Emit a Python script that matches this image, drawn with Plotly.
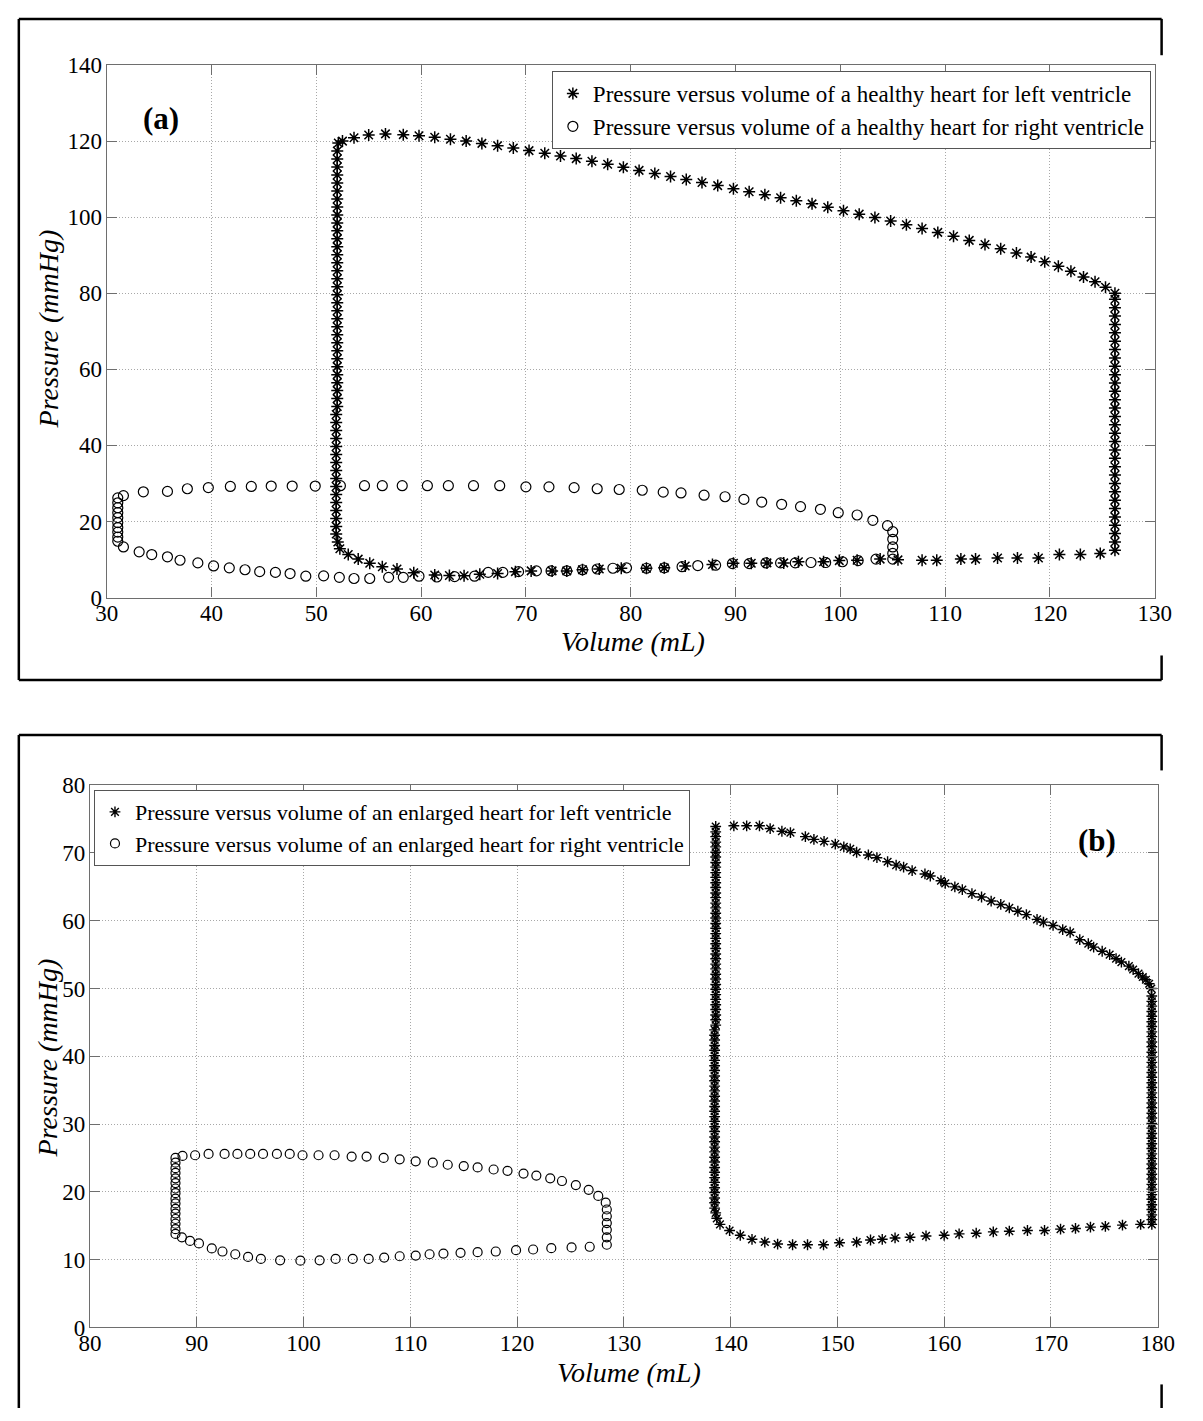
import plotly.graph_objects as go

W, H = 1203, 1421

# ---------------- Panel (a): healthy heart ----------------
lv_a_vol = [
    # isovolumic relaxation (V ~ 52)
    52.1, 52.0, 52.0, 52.0, 52.0, 52.0, 52.0, 52.0, 52.0, 52.0,
    52.0, 52.0, 52.0, 52.0, 52.0, 52.0, 52.0, 52.0, 52.0, 52.0,
    52.0, 52.0, 52.0, 52.0, 52.0, 52.0, 52.0, 52.0, 52.0, 52.0,
    52.0, 52.0, 52.0, 52.0, 51.9, 51.9, 51.9, 51.9, 51.9, 51.9,
    51.9, 51.9, 51.9, 51.9, 51.9, 51.9, 51.9, 51.9, 51.9, 51.9,
    # filling
    52.05, 52.25, 53.05, 54.0, 55.1, 56.3, 57.7, 59.3, 61.3, 62.7,
    64.1, 65.6, 67.3, 69.0, 70.5, 72.5, 73.9, 75.4, 77.0, 79.1,
    81.5, 83.2, 85.2, 87.8, 89.8, 91.5, 93.0, 94.6, 96.0, 98.4,
    99.9, 101.6, 103.8, 105.5, 107.8, 109.2, 111.5, 112.9, 115.0, 116.9,
    118.9, 120.9, 122.9, 124.8, 126.2,
    # isovolumic contraction (V ~ 126)
    126.2, 126.2, 126.2, 126.2, 126.2, 126.2, 126.2, 126.2, 126.2, 126.2,
    126.2, 126.2, 126.2, 126.2, 126.2, 126.2, 126.2, 126.2, 126.2, 126.2,
    126.2, 126.2, 126.2, 126.2, 126.2, 126.2, 126.2, 126.2, 126.2, 126.2,
    126.2,
    # ejection
    125.3, 124.3, 123.2, 122.0, 120.8, 119.5, 118.2, 116.8, 115.3, 113.8,
    112.3, 110.8, 109.3, 107.8, 106.3, 104.8, 103.3, 101.8, 100.3, 98.8,
    97.3, 95.8, 94.3, 92.8, 91.3, 89.8, 88.3, 86.8, 85.3, 83.8,
    82.3, 80.8, 79.3, 77.8, 76.3, 74.8, 73.3, 71.8, 70.3, 68.8,
    67.3, 65.8, 64.3, 62.8, 61.3, 59.8, 58.3, 56.6, 55.0, 53.6,
    52.5,
]
lv_a_pres = [
    119.5, 117.4, 115.3, 113.2, 111.1, 109.0, 106.9, 104.8, 102.7, 100.6,
    98.5, 96.4, 94.3, 92.2, 90.1, 88.0, 85.9, 83.8, 81.7, 79.6,
    77.5, 75.4, 73.3, 71.2, 69.1, 67.0, 64.9, 62.8, 60.7, 58.6,
    56.5, 54.4, 52.3, 50.2, 48.1, 46.0, 43.9, 41.8, 39.7, 37.6,
    35.5, 33.4, 31.3, 29.2, 27.1, 25.0, 22.9, 20.8, 18.7, 16.7,
    14.6, 12.8, 11.3, 10.1, 9.0, 8.1, 7.5, 6.5, 5.9, 5.8,
    5.7, 6.1, 6.3, 6.8, 7.0, 7.0, 7.0, 7.3, 7.5, 7.7,
    7.7, 7.8, 8.3, 8.7, 9.0, 9.0, 9.1, 9.1, 9.4, 9.4,
    9.7, 9.8, 10.1, 9.9, 9.8, 9.8, 10.1, 10.1, 10.4, 10.4,
    10.4, 11.3, 11.3, 11.6, 12.4,
    14.6, 16.8, 19.0, 21.2, 23.4, 25.6, 27.8, 30.0, 32.2, 34.4,
    36.6, 38.8, 41.0, 43.2, 45.4, 47.6, 49.8, 52.0, 54.2, 56.4,
    58.6, 60.8, 63.0, 65.2, 67.4, 69.6, 71.8, 74.0, 76.2, 78.4,
    80.0,
    81.6, 83.0, 84.3, 85.8, 87.1, 88.3, 89.5, 90.6, 91.7, 92.8,
    93.9, 95.0, 96.0, 97.0, 98.0, 99.0, 99.9, 100.8, 101.7, 102.6,
    103.5, 104.3, 105.1, 105.9, 106.7, 107.5, 108.3, 109.1, 109.9, 110.7,
    111.5, 112.3, 113.1, 113.9, 114.7, 115.4, 116.1, 116.8, 117.5, 118.2,
    118.8, 119.4, 120.0, 120.5, 121.0, 121.4, 121.7, 121.9, 121.6, 120.9,
    120.0,
]

rv_a_vol = [
    31.06, 31.06, 31.06, 31.06, 31.06, 31.06, 31.06, 31.06, 31.06, 31.06,
    31.6, 33.1, 34.3, 35.8, 37.0, 38.7, 40.2, 41.7, 43.2, 44.6,
    46.1, 47.5, 49.0, 50.7, 52.2, 53.6, 55.1, 56.9, 58.3, 59.8,
    61.5, 63.2, 65.1, 66.4, 67.8, 69.3, 71.0, 72.4, 73.9, 75.4,
    76.8, 78.3, 79.6, 81.5, 83.2, 84.9, 86.4, 88.1, 89.7, 91.3,
    92.9, 94.3, 95.7, 97.2, 98.6, 100.2, 101.7, 103.4, 105.0,
    105.0, 105.0, 105.0, 105.0,
    104.5, 103.1, 101.6, 99.8, 98.1, 96.2, 94.4, 92.5, 90.8, 89.0,
    87.0, 84.8, 83.1, 81.1, 78.9, 76.8, 74.6, 72.2, 70.0, 67.5,
    65.0, 62.6, 60.6, 58.2, 56.3, 54.6, 52.3, 49.9, 47.7, 45.7,
    43.8, 41.8, 39.7, 37.7, 35.8, 33.5, 31.6,
]
rv_a_pres = [
    26.2, 24.9, 23.6, 22.3, 21.0, 19.7, 18.4, 17.2, 15.9, 14.8,
    13.3, 12.0, 11.3, 10.7, 9.8, 9.1, 8.3, 7.8, 7.3, 6.8,
    6.6, 6.3, 5.6, 5.7, 5.3, 5.0, 5.0, 5.3, 5.3, 5.6,
    5.4, 5.5, 5.6, 6.6, 6.6, 6.8, 7.0, 7.0, 7.0, 7.3,
    7.5, 7.7, 7.8, 7.7, 7.8, 8.1, 8.4, 8.5, 8.9, 8.9,
    9.1, 9.1, 9.1, 9.2, 9.2, 9.4, 9.7, 10.1, 10.1,
    11.6, 13.3, 15.3, 17.3,
    18.9, 20.3, 21.7, 22.3, 23.2, 23.9, 24.5, 25.1, 25.8, 26.5,
    26.9, 27.5, 27.7, 28.2, 28.4, 28.6, 28.9, 29.1, 29.1, 29.4,
    29.4, 29.4, 29.4, 29.4, 29.4, 29.4, 29.4, 29.3, 29.3, 29.3,
    29.2, 29.2, 28.9, 28.6, 27.9, 27.8, 26.8,
]

# ---------------- Panel (b): enlarged heart ----------------
lv_b_vol = [
    # isovolumic relaxation (V ~ 138.6)
    138.6, 138.6, 138.6, 138.6, 138.6, 138.6, 138.6, 138.6, 138.6, 138.6,
    138.6, 138.6, 138.6, 138.6, 138.6, 138.6, 138.6, 138.6, 138.6, 138.6,
    138.6, 138.6, 138.6, 138.6, 138.6, 138.6, 138.6, 138.6, 138.6, 138.6,
    138.6, 138.6, 138.6, 138.6, 138.6, 138.6, 138.6, 138.6, 138.6, 138.6,
    138.5, 138.5, 138.5, 138.5, 138.5, 138.5, 138.5, 138.5, 138.5, 138.5,
    138.5, 138.5, 138.5, 138.5, 138.5, 138.5, 138.5, 138.5, 138.5, 138.5,
    138.5, 138.5, 138.5, 138.5, 138.5, 138.5, 138.5, 138.5, 138.5, 138.5,
    138.5, 138.5, 138.5, 138.5, 138.5, 138.5, 138.6, 138.7,
    # filling
    139.0, 139.9, 140.9, 142.0, 143.2, 144.4, 145.8, 147.2, 148.7, 150.2,
    151.8, 153.1, 154.2, 155.4, 156.8, 158.3, 160.0, 161.4, 163.0, 164.6,
    166.1, 167.8, 169.4, 170.9, 172.3, 173.7, 175.1, 176.7, 178.4, 179.45,
    # isovolumic contraction (V ~ 179.45)
    179.45, 179.45, 179.45, 179.45, 179.45, 179.45, 179.45, 179.45, 179.45, 179.45,
    179.45, 179.45, 179.45, 179.45, 179.45, 179.45, 179.45, 179.45, 179.45, 179.45,
    179.45, 179.45, 179.45, 179.45, 179.45, 179.45, 179.45, 179.45, 179.45, 179.45,
    179.45, 179.45, 179.45, 179.45, 179.45, 179.45, 179.45, 179.45, 179.45, 179.45,
    179.45, 179.45, 179.45, 179.45, 179.45,
    # ejection
    179.4, 179.2, 178.9, 178.6, 178.2, 177.7, 177.3, 176.6, 176.1, 175.5,
    174.8, 174.0, 173.5, 172.7, 171.8, 171.1, 170.2, 169.3, 168.7, 167.7,
    166.9, 166.1, 165.3, 164.4, 163.5, 162.6, 161.7, 161.0, 160.1, 159.7,
    158.7, 158.2, 157.0, 156.2, 155.5, 154.7, 153.7, 152.9, 151.8, 151.2,
    150.6, 149.8, 148.75, 147.8, 147.0, 145.6, 144.8, 143.7, 142.7, 141.5,
    140.3,
]
lv_b_pres = [
    73.9, 73.1, 72.4, 71.6, 70.9, 70.1, 69.4, 68.6, 67.9, 67.1,
    66.4, 65.6, 64.9, 64.1, 63.4, 62.6, 61.9, 61.1, 60.4, 59.6,
    58.9, 58.1, 57.4, 56.6, 55.9, 55.1, 54.4, 53.6, 52.9, 52.1,
    51.4, 50.6, 49.9, 49.1, 48.4, 47.6, 46.9, 46.1, 45.4, 44.6,
    43.9, 43.1, 42.4, 41.6, 40.9, 40.1, 39.4, 38.6, 37.9, 37.1,
    36.4, 35.6, 34.9, 34.1, 33.4, 32.6, 31.9, 31.1, 30.4, 29.6,
    28.9, 28.1, 27.4, 26.6, 25.9, 25.1, 24.4, 23.6, 22.9, 22.1,
    21.4, 20.6, 19.9, 19.1, 18.4, 17.6, 16.9, 16.1,
    15.2, 14.3, 13.6, 13.0, 12.6, 12.3, 12.2, 12.2, 12.2, 12.5,
    12.6, 12.9, 13.0, 13.2, 13.3, 13.5, 13.6, 13.8, 13.9, 14.1,
    14.2, 14.3, 14.3, 14.5, 14.6, 14.8, 14.9, 15.1, 15.2, 15.2,
    15.9, 16.6, 17.4, 18.1, 18.9, 19.6, 20.4, 21.1, 21.9, 22.6,
    23.4, 24.1, 24.9, 25.6, 26.4, 27.1, 27.9, 28.6, 29.4, 30.1,
    30.9, 31.6, 32.4, 33.1, 33.9, 34.6, 35.4, 36.1, 36.9, 37.6,
    38.4, 39.1, 39.9, 40.6, 41.4, 42.1, 42.9, 43.6, 44.4, 45.1,
    45.9, 46.6, 47.4, 48.1, 48.9,
    50.0, 50.7, 51.3, 51.7, 52.2, 52.8, 53.3, 53.9, 54.4, 55.0,
    55.5, 56.1, 56.6, 57.2, 58.3, 58.7, 59.3, 59.8, 60.2, 60.9,
    61.4, 61.9, 62.4, 62.9, 63.5, 64.0, 64.6, 65.0, 65.5, 65.9,
    66.6, 66.9, 67.4, 67.9, 68.2, 68.7, 69.3, 69.7, 70.1, 70.6,
    70.9, 71.3, 71.7, 72.0, 72.4, 73.0, 73.2, 73.6, 74.0, 74.0,
    74.0,
]

rv_b_vol = [
    88.0, 88.0, 88.0, 88.0, 88.0, 88.0, 88.0, 88.0, 88.0, 88.0,
    88.0, 88.0, 88.0, 88.0, 88.0, 88.0,
    88.66, 89.84, 91.1, 92.6, 93.8, 95.0, 96.2, 97.5, 98.7, 99.9,
    101.4, 102.9, 104.5, 105.9, 107.5, 109.0, 110.5, 112.1, 113.5, 115.0,
    116.3, 117.8, 119.1, 120.6, 121.8, 123.1, 124.2, 125.5, 126.7, 127.6,
    128.3,
    128.4, 128.4, 128.4, 128.4, 128.4, 128.4,
    126.8, 125.1, 123.2, 121.5, 119.9, 118.0, 116.3, 114.7, 113.1, 111.8,
    110.5, 109.0, 107.55, 106.1, 104.6, 103.0, 101.5, 99.7, 97.8, 96.0,
    94.8, 93.6, 92.4, 91.4, 90.2, 89.36, 88.6,
]
rv_b_pres = [
    25.0, 24.3, 23.5, 22.8, 22.0, 21.3, 20.5, 19.8, 19.0, 18.3,
    17.5, 16.8, 16.0, 15.3, 14.5, 13.8,
    25.3, 25.4, 25.6, 25.6, 25.6, 25.6, 25.6, 25.6, 25.6, 25.4,
    25.4, 25.4, 25.2, 25.2, 25.0, 24.8, 24.5, 24.3, 24.0, 23.8,
    23.6, 23.3, 23.1, 22.7, 22.4, 22.0, 21.6, 21.0, 20.3, 19.4,
    18.4,
    17.4, 16.4, 15.4, 14.4, 13.3, 12.2,
    11.9, 11.8, 11.7, 11.5, 11.4, 11.2, 11.1, 11.0, 10.9, 10.8,
    10.6, 10.5, 10.3, 10.1, 10.1, 10.1, 9.9, 9.85, 9.9, 10.1,
    10.4, 10.8, 11.2, 11.65, 12.4, 12.77, 13.3,
]

x_ticks_a = [30, 40, 50, 60, 70, 80, 90, 100, 110, 120, 130]
y_ticks_a = [0, 20, 40, 60, 80, 100, 120, 140]
x_ticks_b = [80, 90, 100, 110, 120, 130, 140, 150, 160, 170, 180]
y_ticks_b = [0, 10, 20, 30, 40, 50, 60, 70, 80]

legend_a = ["Pressure versus volume of a healthy heart for left ventricle",
            "Pressure versus volume of a healthy heart for right ventricle"]
legend_b = ["Pressure versus volume of an enlarged heart for left ventricle",
            "Pressure versus volume of an enlarged heart for right ventricle"]

FONT = "Liberation Serif"


def px(x):
    return x / W


def py(y):
    return 1 - y / H


star = dict(symbol="asterisk-open", size=10, color="black", line=dict(color="black", width=1.5))
circ = dict(symbol="circle-open", size=10, color="black", line=dict(color="black", width=1.2))
star_b = dict(symbol="asterisk-open", size=9, color="black", line=dict(color="black", width=1.4))
circ_b = dict(symbol="circle-open", size=9, color="black", line=dict(color="black", width=1.2))

fig = go.Figure()
fig.add_trace(go.Scatter(x=lv_a_vol, y=lv_a_pres, mode="markers", marker=star,
                         name=legend_a[0], xaxis="x", yaxis="y", legend="legend"))
fig.add_trace(go.Scatter(x=rv_a_vol, y=rv_a_pres, mode="markers", marker=circ,
                         name=legend_a[1], xaxis="x", yaxis="y", legend="legend"))
fig.add_trace(go.Scatter(x=lv_b_vol, y=lv_b_pres, mode="markers", marker=star_b,
                         name=legend_b[0], xaxis="x2", yaxis="y2", legend="legend2"))
fig.add_trace(go.Scatter(x=rv_b_vol, y=rv_b_pres, mode="markers", marker=circ_b,
                         name=legend_b[1], xaxis="x2", yaxis="y2", legend="legend2"))

axis_style = dict(
    showline=True, linecolor="#6e6e6e", linewidth=1.3, mirror="ticks",
    ticks="inside", ticklen=10, tickwidth=1.2, tickcolor="#6e6e6e",
    showgrid=True, gridcolor="#a8a8a8", griddash="1px,2px", gridwidth=1,
    zeroline=False, tickfont=dict(family=FONT, size=23, color="black"),
    fixedrange=True,
)

fig.update_layout(
    width=W, height=H, margin=dict(l=0, r=0, t=0, b=0),
    paper_bgcolor="white", plot_bgcolor="white",
    showlegend=True,
    xaxis=dict(domain=[px(97), px(1171)], range=[30, 130], tickvals=x_ticks_a,
               anchor="y", ticklabelstandoff=-5, **axis_style),
    yaxis=dict(domain=[py(596), py(54)], range=[0, 140], tickvals=y_ticks_a,
               anchor="x", ticklabelstandoff=-1, **axis_style),
    xaxis2=dict(domain=[px(80), px(1174)], range=[80, 180], tickvals=x_ticks_b,
                anchor="y2", ticklabelstandoff=-5, **axis_style),
    yaxis2=dict(domain=[py(1339), py(787)], range=[0, 80], tickvals=y_ticks_b,
                anchor="x2", ticklabelstandoff=-1, **axis_style),
    legend=dict(x=px(1167), xanchor="right", y=py(60), yanchor="top",
                bgcolor="white", bordercolor="#555555", borderwidth=1,
                font=dict(family=FONT, size=23, color="black"),
                itemwidth=30, tracegroupgap=0),
    legend2=dict(x=px(84), xanchor="left", y=py(792), yanchor="top",
                 bgcolor="white", bordercolor="#555555", borderwidth=1,
                 font=dict(family=FONT, size=22, color="black"),
                 itemwidth=30, tracegroupgap=0),
)

annots = [
    dict(text="<b>(a)</b>", x=px(153), y=py(108), size=31, angle=0),
    dict(text="<b>(b)</b>", x=px(1112), y=py(843), size=31, angle=0),
    dict(text="<i>Pressure (mmHg)</i>", x=px(37), y=py(323), size=28, angle=-90),
    dict(text="<i>Volume (mL)</i>", x=px(636), y=py(641), size=28, angle=0),
    dict(text="<i>Pressure (mmHg)</i>", x=px(36), y=py(1065), size=28, angle=-90),
    dict(text="<i>Volume (mL)</i>", x=px(632), y=py(1385), size=28, angle=0),
]
for a in annots:
    fig.add_annotation(text=a["text"], x=a["x"], y=a["y"], xref="paper", yref="paper",
                       xanchor="center", yanchor="middle", showarrow=False,
                       textangle=a["angle"], font=dict(family=FONT, size=a["size"], color="black"))

# outer frame lines around each panel
frame_lines = [
    (7, 7, 1178, 7), (7, 7, 7, 680), (1178, 7, 1178, 44), (7, 680, 1178, 680), (1178, 655, 1178, 680),
    (7, 736, 1178, 736), (7, 736, 7, 1421), (1178, 736, 1178, 772), (1178, 1397, 1178, 1421),
]
for x0, y0, x1, y1 in frame_lines:
    fig.add_shape(type="line", xref="paper", yref="paper",
                  x0=px(x0), y0=py(y0), x1=px(x1), y1=py(y1),
                  line=dict(color="black", width=2.5))

fig.write_html("out.html",
               post_script="document.body.style.margin='0';document.body.style.overflow='hidden';")
